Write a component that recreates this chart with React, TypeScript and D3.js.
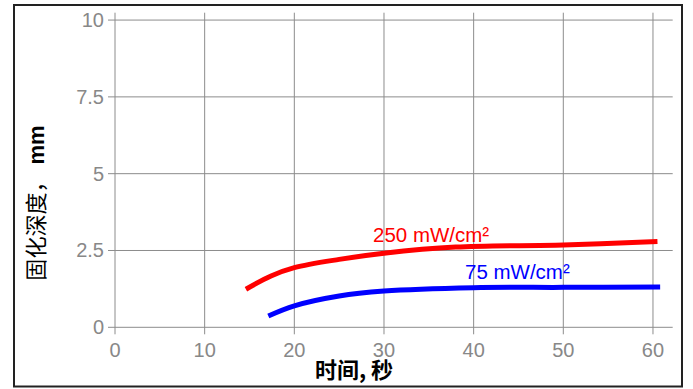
import React from "react";
import * as d3 from "d3";

const xTicks = [0, 10, 20, 30, 40, 50, 60];
const yTicks = [0, 2.5, 5, 7.5, 10];
const yTickLabels = ["0", "2.5", "5", "7.5", "10"];

const redX = [14.6, 17.4, 20, 25, 30, 38, 50, 60.5];
const redY = [1.24, 1.67, 1.94, 2.21, 2.41, 2.61, 2.68, 2.79];
const blueX = [17.1, 20, 25, 30, 40, 50, 60.8];
const blueY = [0.37, 0.7, 1.02, 1.18, 1.29, 1.3, 1.31];

const seriesLabels = ["250 mW/cm²", "75 mW/cm²"];
const xTitle = "时间, 秒";
const yTitleCjk = "固化深度，";
const yTitleUnit = " mm";

export default function App() {
  const W = 693, H = 389;
  const x = d3.scaleLinear().domain([0, 62.2]).range([115, 672.7]);
  const y = d3.scaleLinear().domain([0, 10.24]).range([327.3, 12.7]);
  const line = d3
    .line<[number, number]>()
    .x((d) => x(d[0]))
    .y((d) => y(d[1]))
    .curve(d3.curveCatmullRom.alpha(0.5));
  const red = redX.map((v, i) => [v, redY[i]] as [number, number]);
  const blue = blueX.map((v, i) => [v, blueY[i]] as [number, number]);
  const [x0, x1] = x.range();
  const [y0, y1] = y.range();
  const font = "'Liberation Sans', Arial, sans-serif";
  const cjk = "'Noto Sans CJK SC', 'Liberation Sans', sans-serif";
  return (
    <svg
      width={W}
      height={H}
      style={{ position: "absolute", left: 0, top: 0, background: "#fff" }}
    >
      <rect x={0} y={0} width={W} height={H} fill="#fff" />
      <rect x={14} y={5} width={668} height={381.5} fill="none" stroke="#222" strokeWidth={2} />
      {xTicks.map((t) => (
        <line key={"gx" + t} x1={x(t)} x2={x(t)} y1={y1} y2={y0 + 7} stroke="#8c8c8c" strokeWidth={1} />
      ))}
      {yTicks.map((t) => (
        <line key={"gy" + t} x1={x0 - 7} x2={x1} y1={y(t)} y2={y(t)} stroke="#8c8c8c" strokeWidth={1} />
      ))}
      {xTicks.map((t) => (
        <text key={"tx" + t} x={x(t)} y={357} textAnchor="middle" fontFamily={font} fontSize={20} fill="#888">
          {t}
        </text>
      ))}
      {yTicks.map((t, i) => (
        <text key={"ty" + t} x={104} y={y(t) + 7} textAnchor="end" fontFamily={font} fontSize={20} fill="#888">
          {yTickLabels[i]}
        </text>
      ))}
      <path d={line(red) || ""} fill="none" stroke="#ff0000" strokeWidth={5} />
      <path d={line(blue) || ""} fill="none" stroke="#0000ff" strokeWidth={5} />
      <text x={373} y={242} fontFamily={font} fontSize={20.5} fill="#ff0000">
        {seriesLabels[0]}
      </text>
      <text x={465} y={279} fontFamily={font} fontSize={20.5} fill="#0000ff">
        {seriesLabels[1]}
      </text>
      <text x={354} y={378} textAnchor="middle" fontFamily={cjk} fontSize={22} fontWeight="bold" fill="#000">
        {xTitle}
      </text>
      <text
        transform="translate(44,203) rotate(-90)"
        textAnchor="middle"
        fontFamily={cjk}
        fontSize={22}
        fill="#000"
      >
        {yTitleCjk}
        <tspan fontWeight="bold" fontFamily={font}>{yTitleUnit}</tspan>
      </text>
    </svg>
  );
}
